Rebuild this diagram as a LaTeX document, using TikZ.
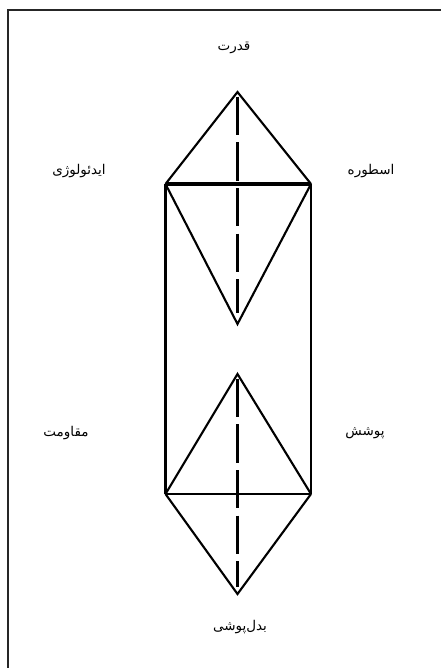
\documentclass[tikz,border=0pt]{standalone}
\usepackage{fontspec}
\newfontfamily\arabicfont[Script=Arabic]{DejaVu Sans}
\TeXXeTstate=1
\usepackage{tikz}
\usetikzlibrary{positioning,calc}

\begin{document}
\begin{tikzpicture}[
  x=0.3mm, y=-0.3mm,
  edgeline/.style={draw, line width=1.8pt, line join=miter},
  baseline/.style={draw, line width=2.6pt},
  axisline/.style={draw, line width=1.8pt, dash pattern=on 11.5mm off 2.2mm},
  framebox/.style={draw=black!85, line width=1.9pt},
  lbl/.style={font=\arabicfont\fontsize{11.5}{13}\selectfont, inner sep=0pt},
]
  \useasboundingbox (0,0) rectangle (441,668);
  \draw[framebox] (8,668) -- (8,10) -- (441,10);

  \coordinate (top) at (237.5,92);
  \coordinate (tl) at (165.5,184);
  \coordinate (tr) at (311,184);
  \coordinate (dn) at (237.5,324);
  \coordinate (up) at (237.5,374);
  \coordinate (bl) at (165.5,494);
  \coordinate (br) at (311,494);
  \coordinate (bot) at (237.5,594);

  \node[lbl] (qodrat) at (234,48) {\beginR قدرت\endR};
  \node[lbl] (ideology) at (79,171) {\beginR ایدئولوژی\endR};
  \node[lbl] (ostoore) at (371,171) {\beginR اسطوره\endR};
  \node[lbl] (moqavemat) at (66,433) {\beginR مقاومت\endR};
  \node[lbl] (pooshesh) at (365,433) {\beginR پوشش\endR};
  \node[lbl] (badal) at (240,627) {\beginR بدل‌پوشی\endR};

  \path[edgeline] (tl) -- (top) -- (tr);
  \path[baseline] (tl) -- (tr);
  \path[edgeline] (tl) -- (dn) -- (tr);
  \path[edgeline] (tl) -- (bl);
  \path[edgeline] (tr) -- (br);
  \path[edgeline] (bl) -- (br);
  \path[edgeline] (bl) -- (up) -- (br);
  \path[edgeline] (bl) -- (bot) -- (br);
  \path[axisline, shorten <=4pt, shorten >=9pt] (top) -- (dn);
  \path[axisline, shorten <=4pt, shorten >=6pt] (up) -- (bot);
\end{tikzpicture}
\end{document}
